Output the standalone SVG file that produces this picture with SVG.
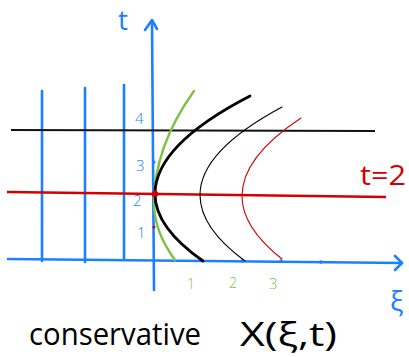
<svg xmlns="http://www.w3.org/2000/svg" width="409" height="357" viewBox="0 0 409 357">
<style>
.blue{stroke:#1a80ff;stroke-width:2.6;fill:none;stroke-linecap:round;stroke-linejoin:round}
.hw{font-family:"Open Sans","Liberation Sans",sans-serif;font-weight:300}
.hn{font-family:"Open Sans","Liberation Sans",sans-serif;font-weight:400}
.bl{fill:#1a80ff}
.gr{fill:#7cc242}
</style>
<rect width="409" height="357" fill="#fff"/>
<g id="grid">
<line class="blue" x1="42" y1="91" x2="42" y2="261"/>
<line class="blue" x1="85" y1="88" x2="85" y2="262"/>
<line class="blue" x1="124" y1="85" x2="124" y2="260"/>
</g>
<g id="axes">
<path class="blue" d="M152,21 L154,290"/>
<path class="blue" d="M145,30 L152,20 L157,29"/>
<path class="blue" d="M8,259 L402,263"/>
<path class="blue" d="M395,256 L402,263 L395,270"/>
<circle cx="154" cy="162" r="1.5" fill="#1a80ff"/>
<circle cx="242" cy="261" r="1.8" fill="#1a80ff"/>
<circle cx="281" cy="261" r="1.8" fill="#1a80ff"/>
<circle cx="321" cy="262" r="1.8" fill="#1a80ff"/>
</g>
<g id="lines">
<path d="M11,130 L375,131" stroke="#111" stroke-width="1.8" fill="none"/>
<path d="M7,192 L386,197" stroke="#d40000" stroke-width="2.4" fill="none"/>
</g>
<g id="curves" fill="none" stroke-linecap="round">
<path d="M194,91 Q154,147 154,203 Q154,231.5 175,260" stroke="#7cc242" stroke-width="2.4"/>
<path d="M250,96 Q155,145 155,194 Q155,227.5 203,261" stroke="#000" stroke-width="2.8"/>
<path d="M282,107 Q200,151 200,195 Q200,228 245,261" stroke="#000" stroke-width="1.1"/>
<path d="M301,118 Q242,157 242,196 Q242,227.5 282,259" stroke="#d40000" stroke-width="1.1"/>
<circle cx="155" cy="194" r="3.2" fill="#d40000"/>
<circle cx="154" cy="227" r="1.5" fill="#d40000"/>
</g>
<g id="labels">
<text class="hn bl" x="118" y="30" font-size="28">t</text>
<text class="hw bl" x="135" y="124" font-size="15">4</text>
<text class="hw bl" x="136" y="171" font-size="15">3</text>
<text class="hw bl" x="133" y="206" font-size="15">2</text>
<text class="hw bl" x="137" y="238" font-size="15">1</text>
<text class="hw gr" x="187" y="289" font-size="14">1</text>
<text class="hw gr" x="229" y="288" font-size="14">2</text>
<text class="hw gr" x="269" y="289" font-size="15">3</text>
<text class="hn bl" x="390" y="311" font-size="28">ξ</text>
<text class="hn" x="360" y="185" font-size="28" fill="#d40000" textLength="46" lengthAdjust="spacingAndGlyphs">t=2</text>
<text class="hn" x="29" y="345" font-size="31" fill="#000" textLength="172" lengthAdjust="spacingAndGlyphs">conservative</text>
<text class="hn" x="240" y="346" font-size="32" fill="#000" textLength="97" lengthAdjust="spacingAndGlyphs">X(ξ,t)</text>
</g>
</svg>
